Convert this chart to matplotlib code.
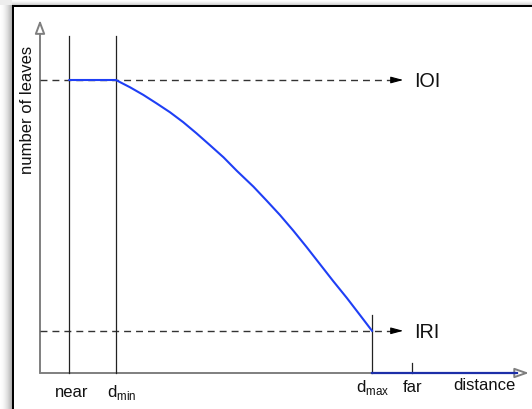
import numpy as np
import matplotlib
matplotlib.use("Agg")
import matplotlib.pyplot as plt

plt.rcParams['font.family'] = ['Liberation Sans', 'DejaVu Sans']
plt.rcParams['mathtext.fontset'] = 'custom'
plt.rcParams['mathtext.rm'] = 'Liberation Sans'

# ---------------- data ----------------
tick_labels = ['near', r'd$_{\mathregular{min}}$', r'd$_{\mathregular{max}}$', 'far']
tick_pos = [0.62, 1.60, 7.00, 7.84]
level_labels = ['IOI', 'IRI']
level_values = [100.0, 14.4]
curve_d = [0.62, 1.60, 1.90, 2.18, 2.46, 2.74, 3.02, 3.30, 3.58, 3.87, 4.15,
           4.50, 4.78, 5.06, 5.34, 5.62, 5.90, 6.18, 6.47, 6.75, 7.00]
curve_L = [100.0, 100.0, 97.5, 94.9, 92.0, 89.0, 85.6, 81.8, 77.8, 73.6, 69.0,
           63.6, 58.8, 53.9, 48.6, 43.0, 37.2, 31.4, 25.6, 19.7, 14.4]
tail_d = [7.00, 10.06]
tail_L = [0.0, 0.0]
x_label = 'distance'
y_label = 'number of leaves'

# ---------------- layout ----------------
W, H, DPI = 532, 409, 100
OX, OY = 40, 373          # pixel position of origin (y from top)
SX, SY = 47.43, 2.93      # pixels per data unit

fig = plt.figure(figsize=(W / DPI, H / DPI), dpi=DPI)

# background with frame + soft shadow
img = np.ones((H, W, 3))
for i in range(12):
    v = 1.0 - 0.30 * ((i + 1) / 12) ** 2
    img[5:, i, :] = np.minimum(img[5:, i, :], v)
for j in range(5):
    v = 1.0 - 0.18 * ((j + 1) / 5) ** 2
    img[j, 12:, :] = np.minimum(img[j, 12:, :], v)
img[0:5, 0:12, :] = np.minimum(img[0:5, 0:12, :], 0.93)
img[5:, 12:14, :] = 0.0
img[5:7, 12:, :] = 0.0
bg = fig.add_axes([0, 0, 1, 1], zorder=0)
bg.imshow(img, extent=(0, W, H, 0), aspect='auto', interpolation='nearest')
bg.set_xlim(0, W)
bg.set_ylim(H, 0)
bg.axis('off')

ax = fig.add_axes([0, 0, 1, 1], zorder=1)
ax.set_facecolor('none')
ax.set_xlim(-OX / SX, (W - OX) / SX)
ax.set_ylim(-(H - OY) / SY, OY / SY)
ax.axis('off')

axis_col = '#7f7f7f'
x_end = (529 - OX) / SX
y_end = (OY - 20.0) / SY
ax.annotate('', xy=(x_end, 0), xytext=(0, 0),
            arrowprops=dict(arrowstyle='-|>,head_length=0.85,head_width=0.3',
                            fc='white', ec=axis_col, lw=1.4,
                            shrinkA=0, shrinkB=0), zorder=2)
ax.annotate('', xy=(0, y_end), xytext=(0, 0),
            arrowprops=dict(arrowstyle='-|>,head_length=0.8,head_width=0.3',
                            fc='white', ec=axis_col, lw=1.4,
                            shrinkA=0, shrinkB=0), zorder=2)

# vertical markers
line_tops = [115.0, 115.0, 19.8, 3.4]
for p, top in zip(tick_pos, line_tops):
    ax.plot([p, p], [0, top], color='#222222', lw=0.9, zorder=3)

# dashed level arrows
dash_end = 7.40
head_tip = 7.66
for lab, v in zip(level_labels, level_values):
    ax.plot([0, dash_end], [v, v], color='#333333', lw=1.0,
            dashes=(5, 3.6), zorder=2)
    ax.annotate('', xy=(head_tip, v), xytext=(dash_end + 0.02, v),
                arrowprops=dict(arrowstyle='-|>,head_length=0.75,head_width=0.2',
                                fc='black', ec='black', lw=0.8,
                                shrinkA=0, shrinkB=0), zorder=3)
    ax.text((414 - OX) / SX, v - 7 / SY, lab, fontsize=14.2,
            ha='left', va='baseline', color='#111111')

# curve
ax.plot(curve_d, curve_L, color='#1f3ff5', lw=1.5, zorder=4,
        solid_joinstyle='round')
ax.plot(tail_d, tail_L, color='#1d2fa8', lw=1.6, zorder=4)

# labels
label_x = [0.675, 1.73, 7.01, 7.86]
label_base = [-8.05, -8.05, -6.5, -6.5]
for lab, xx, yy in zip(tick_labels, label_x, label_base):
    ax.text(xx, yy, lab, fontsize=12, ha='center', va='baseline', color='#111111')
ax.text((484 - OX) / SX, -5.8, x_label, fontsize=12, ha='center', va='baseline',
        color='#111111')
ax.text((27 - OX) / SX, (OY - 110) / SY, y_label, fontsize=12, rotation=90,
        ha='center', va='center', color='#111111')

fig.savefig('out.png', dpi=DPI)
